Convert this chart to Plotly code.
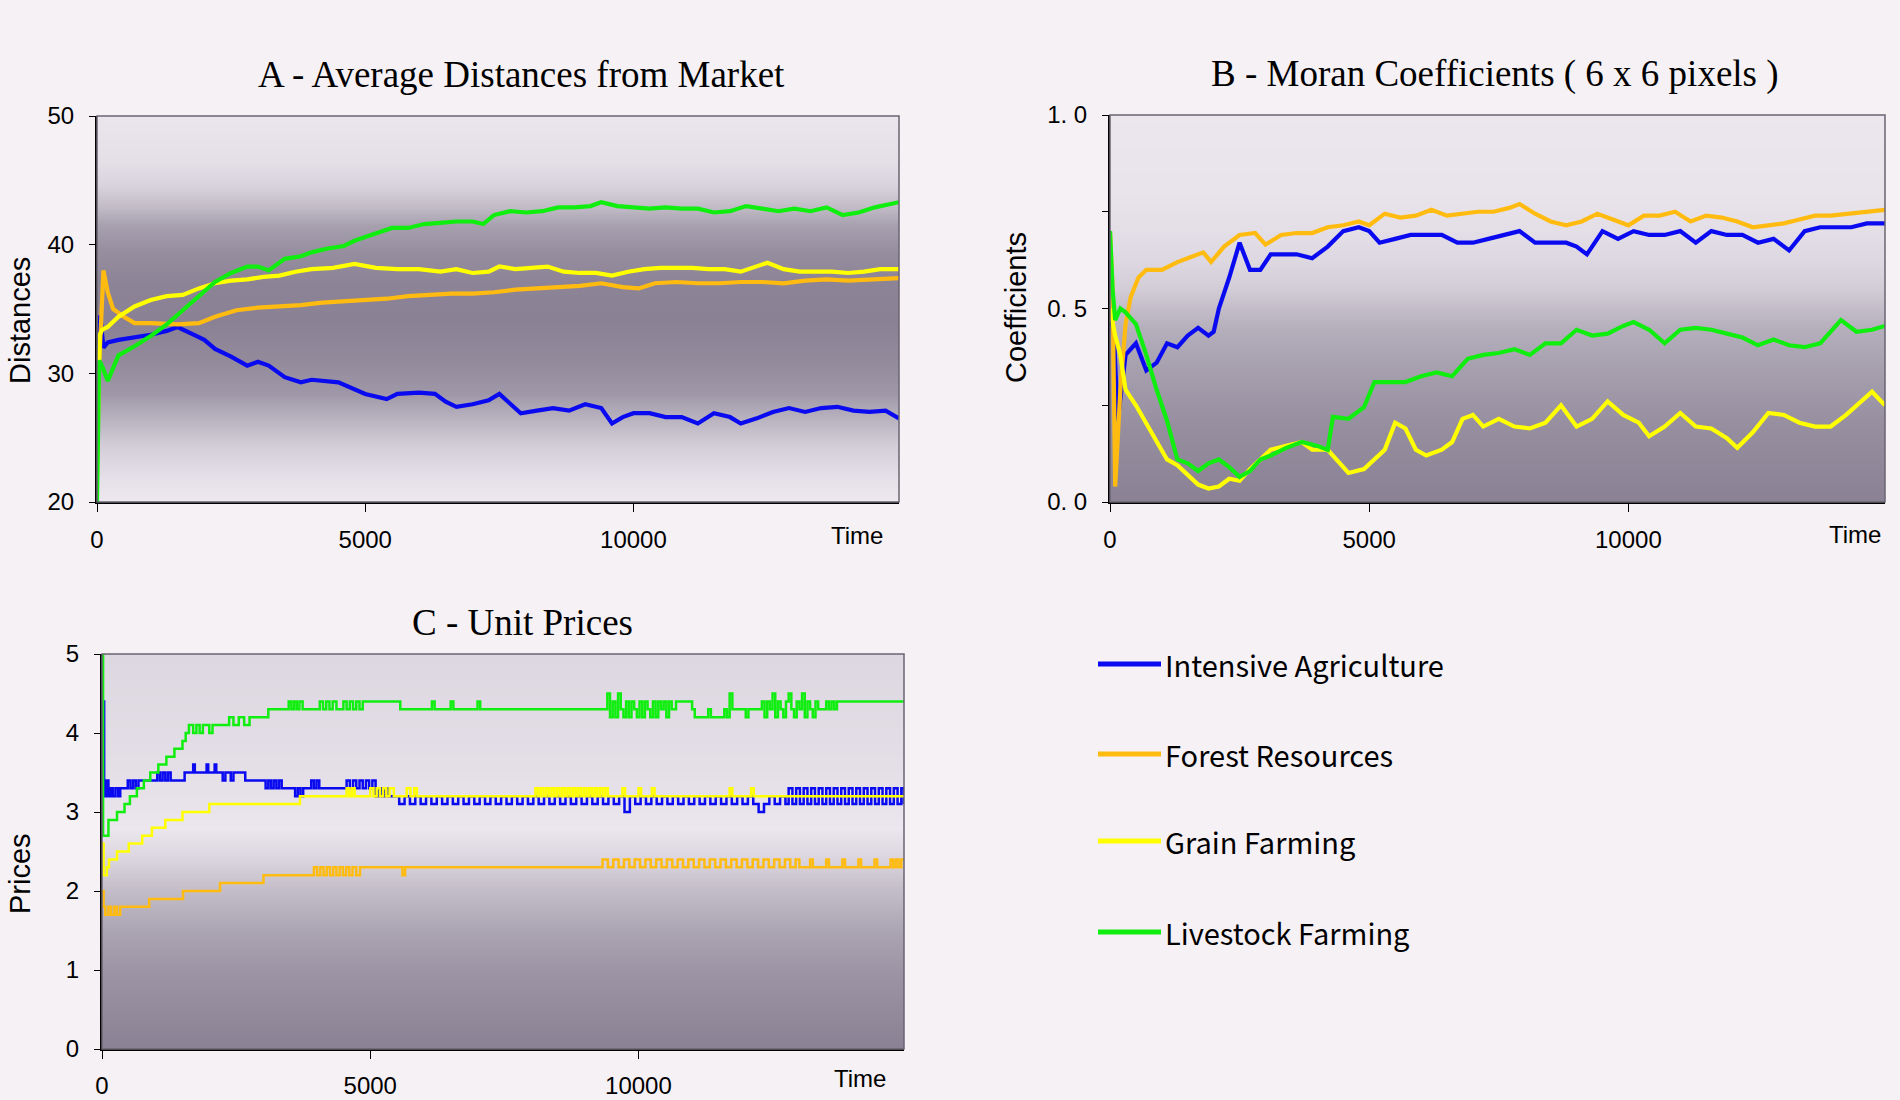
import plotly.graph_objects as go

W, H = 1900, 1100
def px(x): return x / W
def py(y): return 1 - y / H

NAMES = ["Intensive Agriculture", "Forest Resources", "Grain Farming", "Livestock Farming"]
COLORS = ["#0a0af0", "#ffbb10", "#ffff00", "#10ee10"]
X_MAX = 14950
X_TICKS = [0, 5000, 10000]

# ---------------- A - Average Distances from Market ----------------
A_BLUE_T = [0, 60, 120, 200, 400, 700, 1000, 1300, 1500, 1800, 2000, 2200, 2500, 2800, 3000, 3200, 3500, 3800, 4000, 4500,
            4800, 5000, 5400, 5600, 6000, 6300, 6500, 6700, 7000, 7300, 7500, 7700, 7900, 8200, 8500, 8800, 9100, 9400, 9600, 9800,
            10000, 10300, 10600, 10900, 11200, 11500, 11800, 12000, 12300, 12600, 12900, 13200, 13500, 13800, 14100, 14400, 14700, 14950]
A_BLUE_V = [29.0, 34.5, 32.0, 32.4, 32.6, 32.8, 33.0, 33.3, 33.6, 33.0, 32.6, 31.9, 31.3, 30.6, 30.9, 30.6, 29.7, 29.3, 29.5, 29.3,
            28.8, 28.4, 28.0, 28.4, 28.5, 28.4, 27.8, 27.4, 27.6, 27.9, 28.4, 27.6, 26.9, 27.1, 27.3, 27.1, 27.6, 27.3, 26.1, 26.6,
            26.9, 26.9, 26.6, 26.6, 26.1, 26.9, 26.6, 26.1, 26.5, 27.0, 27.3, 27.0, 27.3, 27.4, 27.1, 27.0, 27.1, 26.5]
A_ORANGE_T = [0, 60, 120, 200, 300, 500, 700, 1000, 1500, 1900, 2200, 2600, 3000, 3400, 3800, 4200, 4600, 5000, 5400, 5800,
              6200, 6600, 7000, 7400, 7800, 8200, 8600, 9000, 9400, 9800, 10100, 10400, 10800, 11200, 11600, 12000, 12400, 12800,
              13200, 13600, 14000, 14400, 14950]
A_ORANGE_V = [27.0, 33.0, 38.0, 36.3, 35.0, 34.4, 33.9, 33.9, 33.8, 33.9, 34.4, 34.9, 35.1, 35.2, 35.3, 35.5, 35.6, 35.7, 35.8, 36.0,
              36.1, 36.2, 36.2, 36.3, 36.5, 36.6, 36.7, 36.8, 37.0, 36.7, 36.6, 37.0, 37.1, 37.0, 37.0, 37.1, 37.1, 37.0,
              37.2, 37.3, 37.2, 37.3, 37.4]
A_YELLOW_T = [0, 50, 100, 200, 400, 700, 1000, 1300, 1600, 1900, 2200, 2500, 2800, 3100, 3400, 3700, 4000, 4400, 4800, 5200,
              5600, 6000, 6400, 6700, 7000, 7300, 7500, 7800, 8100, 8400, 8700, 9000, 9300, 9600, 9900, 10200, 10500, 10800,
              11100, 11400, 11700, 12000, 12300, 12500, 12800, 13100, 13400, 13700, 14000, 14300, 14600, 14950]
A_YELLOW_V = [22.0, 33.0, 33.4, 33.6, 34.4, 35.2, 35.7, 36.0, 36.1, 36.6, 37.0, 37.2, 37.3, 37.5, 37.6, 37.9, 38.1, 38.2, 38.5, 38.2,
              38.1, 38.1, 37.9, 38.1, 37.8, 37.9, 38.3, 38.1, 38.2, 38.3, 37.9, 37.8, 37.8, 37.6, 37.9, 38.1, 38.2, 38.2,
              38.2, 38.1, 38.1, 37.9, 38.3, 38.6, 38.1, 37.9, 37.9, 37.9, 37.8, 37.9, 38.1, 38.1]
A_GREEN_T = [0, 40, 100, 200, 400, 700, 1000, 1300, 1600, 1900, 2200, 2500, 2800, 3000, 3200, 3500, 3800, 4000, 4300, 4600,
             4800, 5000, 5200, 5500, 5800, 6100, 6400, 6700, 7000, 7200, 7400, 7700, 8000, 8300, 8600, 8900, 9200, 9400, 9700,
             10000, 10300, 10600, 10900, 11200, 11500, 11800, 12100, 12400, 12700, 13000, 13300, 13600, 13900, 14200, 14500, 14950]
A_GREEN_V = [20.0, 31.0, 30.5, 29.4, 31.4, 32.1, 32.9, 33.8, 34.9, 36.0, 37.1, 37.8, 38.3, 38.3, 38.0, 38.9, 39.1, 39.4, 39.7, 39.9,
             40.3, 40.6, 40.9, 41.3, 41.3, 41.6, 41.7, 41.8, 41.8, 41.6, 42.3, 42.6, 42.5, 42.6, 42.9, 42.9, 43.0, 43.3, 43.0,
             42.9, 42.8, 42.9, 42.8, 42.8, 42.5, 42.6, 43.0, 42.8, 42.6, 42.8, 42.6, 42.9, 42.3, 42.5, 42.9, 43.3]
A_Y_TICKS = [20, 30, 40, 50]

# ---------------- B - Moran Coefficients ----------------
B_BLUE_T = [0, 80, 150, 300, 500, 700, 900, 1100, 1300, 1500, 1700, 1900, 2000, 2100, 2300, 2500, 2700, 2900, 3100, 3300,
            3600, 3900, 4200, 4500, 4800, 5000, 5200, 5500, 5800, 6100, 6400, 6700, 7000, 7300, 7600, 7900, 8200, 8500, 8800,
            9000, 9200, 9500, 9800, 10100, 10400, 10700, 11000, 11300, 11600, 11900, 12200, 12500, 12800, 13100, 13400,
            13700, 14000, 14300, 14600, 14950]
B_BLUE_V = [0.50, 0.42, 0.21, 0.38, 0.41, 0.34, 0.36, 0.41, 0.40, 0.43, 0.45, 0.43, 0.44, 0.50, 0.58, 0.67, 0.60, 0.60, 0.64, 0.64,
            0.64, 0.63, 0.66, 0.70, 0.71, 0.70, 0.67, 0.68, 0.69, 0.69, 0.69, 0.67, 0.67, 0.68, 0.69, 0.70, 0.67, 0.67, 0.67,
            0.66, 0.64, 0.70, 0.68, 0.70, 0.69, 0.69, 0.70, 0.67, 0.70, 0.69, 0.69, 0.67, 0.68, 0.65, 0.70,
            0.71, 0.71, 0.71, 0.72, 0.72]
B_ORANGE_T = [0, 50, 100, 200, 300, 400, 550, 700, 1000, 1300, 1600, 1800, 1950, 2200, 2500, 2800, 3000, 3300, 3600, 3900,
              4200, 4500, 4800, 5000, 5300, 5600, 5900, 6200, 6500, 6800, 7100, 7400, 7700, 7900, 8200, 8500, 8800, 9100,
              9400, 9700, 10000, 10300, 10600, 10900, 11200, 11500, 11800, 12100, 12400, 12700, 13000, 13300, 13600,
              13900, 14200, 14500, 14950]
B_ORANGE_V = [0.70, 0.55, 0.04, 0.29, 0.46, 0.53, 0.58, 0.60, 0.60, 0.62, 0.635, 0.645, 0.62, 0.66, 0.69, 0.695, 0.665, 0.69, 0.695, 0.695,
              0.71, 0.715, 0.725, 0.715, 0.745, 0.735, 0.74, 0.755, 0.74, 0.745, 0.75, 0.75, 0.76, 0.77, 0.745, 0.725, 0.715, 0.725,
              0.745, 0.73, 0.715, 0.74, 0.74, 0.75, 0.725, 0.74, 0.735, 0.725, 0.71, 0.715, 0.72, 0.73, 0.74,
              0.74, 0.745, 0.75, 0.755]
B_YELLOW_T = [0, 100, 200, 300, 500, 700, 900, 1100, 1300, 1500, 1700, 1900, 2100, 2300, 2500, 2700, 2900, 3100, 3400, 3700,
              3900, 4200, 4400, 4600, 4900, 5100, 5300, 5500, 5700, 5900, 6100, 6400, 6600, 6800, 7000, 7200, 7500, 7800,
              8100, 8400, 8700, 9000, 9300, 9600, 9900, 10200, 10400, 10700, 11000, 11300, 11600, 11900, 12100, 12400,
              12700, 13000, 13300, 13600, 13900, 14200, 14500, 14700, 14950]
B_YELLOW_V = [0.50, 0.43, 0.38, 0.29, 0.25, 0.205, 0.155, 0.11, 0.095, 0.07, 0.045, 0.035, 0.04, 0.06, 0.055, 0.085, 0.11, 0.135, 0.145, 0.155,
              0.135, 0.135, 0.105, 0.075, 0.085, 0.11, 0.135, 0.205, 0.19, 0.135, 0.12, 0.135, 0.155, 0.215, 0.225, 0.195, 0.215, 0.195,
              0.19, 0.205, 0.25, 0.195, 0.215, 0.26, 0.225, 0.205, 0.17, 0.195, 0.23, 0.195, 0.19, 0.165, 0.14, 0.18,
              0.23, 0.225, 0.205, 0.195, 0.195, 0.225, 0.26, 0.285, 0.25]
B_GREEN_T = [0, 50, 100, 200, 300, 500, 700, 900, 1100, 1300, 1500, 1700, 1900, 2100, 2300, 2500, 2700, 2900, 3100, 3400,
             3700, 4000, 4200, 4300, 4600, 4900, 5100, 5400, 5700, 6000, 6300, 6600, 6900, 7200, 7500, 7800, 8100, 8400,
             8700, 9000, 9300, 9600, 9900, 10100, 10400, 10700, 11000, 11300, 11600, 11900, 12200, 12500, 12800, 13100,
             13400, 13700, 13900, 14100, 14400, 14700, 14950]
B_GREEN_V = [0.70, 0.55, 0.47, 0.50, 0.49, 0.46, 0.38, 0.29, 0.21, 0.11, 0.10, 0.08, 0.10, 0.11, 0.09, 0.065, 0.08, 0.11, 0.12, 0.14,
             0.155, 0.145, 0.135, 0.22, 0.215, 0.245, 0.31, 0.31, 0.31, 0.325, 0.335, 0.325, 0.37, 0.38, 0.385, 0.395, 0.38, 0.41,
             0.41, 0.445, 0.43, 0.435, 0.455, 0.465, 0.445, 0.41, 0.445, 0.45, 0.445, 0.435, 0.425, 0.405, 0.42, 0.405,
             0.40, 0.41, 0.44, 0.47, 0.44, 0.445, 0.455]
B_Y_TICKS = [0, 0.25, 0.5, 0.75, 1.0]
B_Y_TICKTEXT = ["0. 0", "", "0. 5", "", "1. 0"]

# ---------------- C - Unit Prices (step series) ----------------
C_BLUE_T = ([0, 40, 80, 120, 160, 200, 250, 300, 340, 480, 530, 580, 630, 680, 730, 1030, 1080, 1130, 1180, 1230,
             1280, 1540, 1700, 1730, 1950, 1980, 2100, 2130, 2250, 2300, 2400, 2450, 2670, 3050, 3100, 3150, 3200, 3250, 3300, 3350,
             3430, 3600, 3650, 3700, 3750, 3900, 3950, 4000, 4050, 4560, 4620, 4680, 4740, 4800, 4860, 4920, 4980, 5040, 5100, 5160,
             5220, 5280, 5340]
            + list(range(5440, 12741, 100)) + list(range(12800, 14901, 70)) + [14950])
C_BLUE_V = ([4.4, 3.2, 3.4, 3.2, 3.3, 3.2, 3.3, 3.2, 3.3, 3.4, 3.3, 3.4, 3.3, 3.4, 3.4, 3.5, 3.4, 3.5, 3.4, 3.5,
             3.4, 3.5, 3.6, 3.5, 3.6, 3.5, 3.6, 3.5, 3.4, 3.5, 3.4, 3.5, 3.4, 3.3, 3.4, 3.3, 3.4, 3.3, 3.4, 3.3,
             3.3, 3.2, 3.3, 3.2, 3.3, 3.4, 3.3, 3.4, 3.3, 3.4, 3.3, 3.4, 3.3, 3.4, 3.3, 3.4, 3.3, 3.4, 3.2, 3.3,
             3.2, 3.3, 3.2]
            + [3.2, 3.1, 3.2, 3.1, 3.2, 3.1, 3.2, 3.1, 3.2, 3.1,
               3.2, 3.1, 3.2, 3.1, 3.2, 3.1, 3.2, 3.1, 3.2, 3.1,
               3.2, 3.1, 3.2, 3.1, 3.2, 3.1, 3.2, 3.1, 3.2, 3.1,
               3.2, 3.1, 3.2, 3.1, 3.2, 3.1, 3.2, 3.1, 3.2, 3.1,
               3.2, 3.1, 3.2, 3.0, 3.2, 3.1, 3.2, 3.1, 3.2, 3.1,
               3.2, 3.1, 3.2, 3.1, 3.2, 3.1, 3.2, 3.1, 3.2, 3.1,
               3.2, 3.1, 3.2, 3.1, 3.2, 3.1, 3.2, 3.1, 3.0, 3.1,
               3.2, 3.1, 3.2, 3.1]
            + [3.3, 3.1, 3.3, 3.1, 3.3, 3.1, 3.3, 3.1, 3.3, 3.1,
               3.3, 3.1, 3.3, 3.1, 3.3, 3.1, 3.3, 3.1, 3.3, 3.1,
               3.3, 3.1, 3.3, 3.1, 3.3, 3.1, 3.3, 3.1, 3.3, 3.1, 3.3]
            + [3.1])
C_ORANGE_T = ([0, 30, 60, 120, 170, 230, 280, 340, 400, 880, 1510, 2200, 3010, 3950, 4010, 4070, 4130, 4190, 4250, 4310,
               4370, 4430, 4490, 4550, 4610, 4670, 4740, 4810, 5600, 5650]
              + list(range(9330, 12931, 100))
              + [13000, 13200, 13250, 13500, 13550, 13800, 13850, 14100, 14150, 14400, 14450, 14700, 14750, 14800, 14850, 14900, 14950])
C_ORANGE_V = ([2.0, 1.8, 1.7, 1.8, 1.7, 1.8, 1.7, 1.8, 1.8, 1.9, 2.0, 2.1, 2.2, 2.3, 2.2, 2.3, 2.2, 2.3, 2.2, 2.3,
               2.2, 2.3, 2.2, 2.3, 2.2, 2.3, 2.2, 2.3, 2.2, 2.3]
              + [2.4, 2.3, 2.4, 2.3, 2.4, 2.3, 2.4, 2.3, 2.4, 2.3,
                 2.4, 2.3, 2.4, 2.3, 2.4, 2.3, 2.4, 2.3, 2.4, 2.3,
                 2.4, 2.3, 2.4, 2.3, 2.4, 2.3, 2.4, 2.3, 2.4, 2.3,
                 2.4, 2.3, 2.4, 2.3, 2.4, 2.3, 2.4]
              + [2.3, 2.4, 2.3, 2.4, 2.3, 2.4, 2.3, 2.4, 2.3, 2.4, 2.3, 2.4, 2.3, 2.4, 2.3, 2.4, 2.4])
C_YELLOW_T = ([0, 30, 90, 130, 280, 500, 750, 930, 1180, 1500, 2000, 3690, 4560, 4610, 4660, 4710, 5000, 5060, 5120, 5180,
               5240, 5300, 5360, 5440, 5680, 5750, 5820, 5870]
              + list(range(8080, 9431, 50))
              + [9700, 9750, 10000, 10050, 10250, 10300, 11700, 11750, 12100, 12150, 14950])
C_YELLOW_V = ([2.6, 2.2, 2.3, 2.4, 2.5, 2.6, 2.7, 2.8, 2.9, 3.0, 3.1, 3.2, 3.3, 3.2, 3.3, 3.2, 3.3, 3.2, 3.3, 3.2,
               3.3, 3.2, 3.3, 3.2, 3.3, 3.2, 3.3, 3.2]
              + [3.3, 3.2, 3.3, 3.2, 3.3, 3.2, 3.3, 3.2, 3.3, 3.2,
                 3.3, 3.2, 3.3, 3.2, 3.3, 3.2, 3.3, 3.2, 3.3, 3.2,
                 3.3, 3.2, 3.3, 3.2, 3.3, 3.2, 3.3, 3.2]
              + [3.3, 3.2, 3.3, 3.2, 3.3, 3.2, 3.3, 3.2, 3.3, 3.2, 3.2])
C_GREEN_T = ([0, 20, 120, 280, 420, 520, 650, 780, 900, 1050, 1200, 1350, 1500, 1560, 1620, 1700, 1760, 1820, 1880, 2000,
              2060, 2370, 2450, 2550, 2650, 2750, 3100, 3480, 3530, 3580, 3630, 3680, 3740, 4060, 4120, 4180, 4240, 4300, 4370, 4500,
              4560, 4620, 4680, 4740, 4800, 4860, 4930, 5560, 6150, 6200, 6500, 6550, 7000, 7050]
             + list(range(9420, 10621, 50))
             + [10700, 11000, 11050, 11300, 11350, 11600, 11650, 11700, 11750, 12000, 12050, 12300]
             + list(range(12350, 13301, 50))
             + [13350, 13500, 13550, 13600, 13650, 13700, 14950])
C_GREEN_V = ([5.0, 2.7, 2.9, 3.0, 3.1, 3.2, 3.3, 3.4, 3.5, 3.6, 3.7, 3.8, 3.9, 4.0, 4.1, 4.0, 4.1, 4.0, 4.1, 4.0,
              4.1, 4.2, 4.1, 4.2, 4.1, 4.2, 4.3, 4.4, 4.3, 4.4, 4.3, 4.4, 4.3, 4.4, 4.3, 4.4, 4.3, 4.4, 4.3, 4.4,
              4.3, 4.4, 4.3, 4.4, 4.3, 4.4, 4.4, 4.3, 4.4, 4.3, 4.4, 4.3, 4.4, 4.3]
             + [4.5, 4.2, 4.4, 4.2, 4.5, 4.3, 4.2, 4.4, 4.2, 4.4,
                4.3, 4.2, 4.4, 4.2, 4.4, 4.3, 4.2, 4.4, 4.2, 4.4,
                4.3, 4.4, 4.2, 4.4, 4.3]
             + [4.4, 4.3, 4.2, 4.3, 4.2, 4.3, 4.2, 4.5, 4.3, 4.2, 4.3, 4.4]
             + [4.2, 4.4, 4.3, 4.5, 4.2, 4.4, 4.3, 4.2, 4.4, 4.5,
                4.3, 4.2, 4.4, 4.3, 4.5, 4.2, 4.4, 4.3, 4.2, 4.4]
             + [4.3, 4.4, 4.3, 4.4, 4.3, 4.4, 4.4])
C_Y_TICKS = [0, 1, 2, 3, 4, 5]

for t, v in [(A_BLUE_T, A_BLUE_V), (A_ORANGE_T, A_ORANGE_V), (A_YELLOW_T, A_YELLOW_V), (A_GREEN_T, A_GREEN_V),
             (B_BLUE_T, B_BLUE_V), (B_ORANGE_T, B_ORANGE_V), (B_YELLOW_T, B_YELLOW_V), (B_GREEN_T, B_GREEN_V),
             (C_BLUE_T, C_BLUE_V), (C_ORANGE_T, C_ORANGE_V), (C_YELLOW_T, C_YELLOW_V), (C_GREEN_T, C_GREEN_V)]:
    assert len(t) == len(v), (len(t), len(v))

# ---------------- background shading (style) ----------------
SHADE_SCALE = [[0, "#f1ecf3"], [1, "#8a8294"]]
BG_A_Y = [19, 20, 22, 24.5, 26.5, 28.5, 31, 34, 37, 39.5, 41.5, 43, 44.5, 46.5, 50, 51]
BG_A_S = [0.03, 0.03, 0.12, 0.3, 0.55, 0.8, 0.92, 1.0, 0.98, 0.88, 0.72, 0.45, 0.25, 0.12, 0.06, 0.06]
BG_B_Y = [-0.05, 0.0, 0.2, 0.35, 0.45, 0.5, 0.55, 0.62, 0.7, 0.8, 1.0, 1.05]
BG_B_S = [1.0, 1.0, 0.88, 0.72, 0.58, 0.45, 0.3, 0.2, 0.13, 0.08, 0.05, 0.05]
BG_C_Y = [-0.2, 0, 1, 1.5, 2, 2.4, 2.8, 3.2, 4, 5, 5.2]
BG_C_S = [1.0, 1.0, 0.82, 0.68, 0.45, 0.22, 0.05, 0.1, 0.15, 0.2, 0.2]

fig = go.Figure()

def add_bg(ys, ss, xa, ya):
    fig.add_trace(go.Heatmap(x=[-500, X_MAX + 500], y=ys, z=[[s, s] for s in ss], colorscale=SHADE_SCALE,
                             zmin=0, zmax=1, zsmooth="best", showscale=False, hoverinfo="skip",
                             xaxis=xa, yaxis=ya))

add_bg(BG_A_Y, BG_A_S, "x", "y")
add_bg(BG_B_Y, BG_B_S, "x2", "y2")
add_bg(BG_C_Y, BG_C_S, "x3", "y3")

panels = [
    ("x", "y", [(A_BLUE_T, A_BLUE_V), (A_ORANGE_T, A_ORANGE_V), (A_YELLOW_T, A_YELLOW_V), (A_GREEN_T, A_GREEN_V)], "linear", 4.2),
    ("x2", "y2", [(B_BLUE_T, B_BLUE_V), (B_ORANGE_T, B_ORANGE_V), (B_YELLOW_T, B_YELLOW_V), (B_GREEN_T, B_GREEN_V)], "linear", 4.2),
    ("x3", "y3", [(C_BLUE_T, C_BLUE_V), (C_ORANGE_T, C_ORANGE_V), (C_YELLOW_T, C_YELLOW_V), (C_GREEN_T, C_GREEN_V)], "hv", 2.5),
]
for xa, ya, series, shape, lw in panels:
    for i, (t, v) in enumerate(series):
        fig.add_trace(go.Scatter(x=t, y=v, mode="lines", name=NAMES[i],
                                 line=dict(color=COLORS[i], width=lw, shape=shape),
                                 xaxis=xa, yaxis=ya, showlegend=False))

TICK_FONT = dict(family="Liberation Sans, Arial", size=24, color="#000000")
GRID = "#5e5666"

def xaxis_cfg(domain, anchor, standoff):
    return dict(domain=domain, anchor=anchor, range=[0, X_MAX], tickvals=X_TICKS, ticktext=[str(v) for v in X_TICKS],
                showgrid=True, gridcolor="#6a6270", gridwidth=1, griddash="dot", zeroline=False, automargin=False,
                showline=True, linecolor="#000000", linewidth=2, ticks="outside", ticklen=8, tickcolor="#000000",
                tickfont=TICK_FONT, ticklabelstandoff=standoff, fixedrange=True)

def yaxis_cfg(domain, anchor, rng, tickvals, ticktext=None):
    d = dict(domain=domain, anchor=anchor, range=rng, tickvals=tickvals,
             showgrid=True, gridcolor=GRID, gridwidth=1, zeroline=False, automargin=False,
             showline=True, linecolor="#000000", linewidth=2, ticks="outside", ticklen=6, tickcolor="#000000",
             tickfont=TICK_FONT, ticklabelstandoff=10, fixedrange=True)
    if ticktext is not None:
        d["ticktext"] = ticktext
    return d

A_X = [px(97), px(899)]; A_Y = [py(502), py(116)]
B_X = [px(1110), px(1885)]; B_Y = [py(502), py(115)]
C_X = [px(102), px(904)]; C_Y = [py(1049), py(654)]

fig.update_layout(
    width=W, height=H, margin=dict(l=0, r=0, t=0, b=0, autoexpand=False),
    paper_bgcolor="#f6f1f5", plot_bgcolor="#e8e3ea",
    showlegend=False,
    xaxis=xaxis_cfg(A_X, "y", 7),
    yaxis=yaxis_cfg(A_Y, "x", [20, 50], A_Y_TICKS),
    xaxis2=xaxis_cfg(B_X, "y2", 7),
    yaxis2=yaxis_cfg(B_Y, "x2", [0, 1], B_Y_TICKS, B_Y_TICKTEXT),
    xaxis3=xaxis_cfg(C_X, "y3", 6),
    yaxis3=yaxis_cfg(C_Y, "x3", [0, 5], C_Y_TICKS),
)

shapes = []
for xr, yr in [("x", "y"), ("x2", "y2"), ("x3", "y3")]:
    shapes.append(dict(type="rect", xref=f"{xr} domain", yref=f"{yr} domain", x0=0, x1=1, y0=0, y1=1,
                       line=dict(color="#6a6472", width=1.5), fillcolor="rgba(0,0,0,0)", layer="above"))

annotations = []
TITLE_FONT = dict(family="Liberation Serif, Times New Roman, serif", size=37, color="#000000")
for text, cx, cy in [("A - Average Distances from Market", 521, 75),
                     ("B - Moran Coefficients ( 6 x 6 pixels )", 1495, 74),
                     ("C - Unit Prices", 522, 622)]:
    annotations.append(dict(text=text, x=px(cx), y=py(cy), xref="paper", yref="paper", showarrow=False,
                            xanchor="center", yanchor="middle", font=TITLE_FONT))

AXT_FONT = dict(family="Liberation Sans, Arial", size=29, color="#000000")
for text, cx, cy in [("Distances", 20, 321), ("Coefficients", 1016, 308), ("Prices", 20, 874)]:
    annotations.append(dict(text=text, x=px(cx), y=py(cy), xref="paper", yref="paper", showarrow=False,
                            xanchor="center", yanchor="middle", textangle=-90, font=AXT_FONT))

for cx, cy in [(857, 535), (1855, 534), (860, 1078)]:
    annotations.append(dict(text="Time", x=px(cx), y=py(cy), xref="paper", yref="paper", showarrow=False,
                            xanchor="center", yanchor="middle", font=TICK_FONT))

LEG_FONT = dict(family="Noto Sans CJK JP, Noto Sans, sans-serif", size=29, color="#000000")
for i, cy in enumerate([664, 754, 841, 932]):
    shapes.append(dict(type="line", xref="paper", yref="paper", x0=px(1098), x1=px(1161), y0=py(cy), y1=py(cy),
                       line=dict(color=COLORS[i], width=5)))
    annotations.append(dict(text=NAMES[i], x=px(1163), y=py(cy), xref="paper", yref="paper", showarrow=False,
                            xanchor="left", yanchor="middle", font=LEG_FONT))

fig.update_layout(shapes=shapes, annotations=annotations)

fig.write_html("out.html", config={"displayModeBar": False},
               post_script="document.body.style.margin='0';document.body.style.overflow='hidden';")
